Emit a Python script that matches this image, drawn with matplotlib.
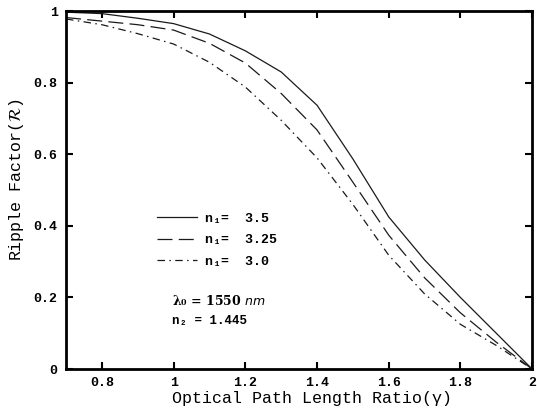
import matplotlib
matplotlib.use("Agg")
import matplotlib.pyplot as plt

# datos
gamma = [0.7, 0.8, 0.9, 1.0, 1.1, 1.2, 1.3, 1.4, 1.5, 1.6, 1.7, 1.8, 1.9, 2.0]
r_350 = [0.997, 0.993, 0.98, 0.965, 0.936, 0.889, 0.83, 0.737, 0.587, 0.425, 0.305, 0.20, 0.10, 0.0]
r_325 = [0.982, 0.972, 0.962, 0.947, 0.91, 0.855, 0.77, 0.668, 0.522, 0.374, 0.255, 0.157, 0.075, 0.0]
r_300 = [0.978, 0.962, 0.937, 0.908, 0.857, 0.788, 0.695, 0.59, 0.46, 0.318, 0.21, 0.125, 0.066, 0.0]
etiquetas = ["n\u2081=  3.5", "n\u2081=  3.25", "n\u2081=  3.0"]

xticks = [0.8, 1.0, 1.2, 1.4, 1.6, 1.8, 2.0]
xticklabels = ["0.8", "1", "1.2", "1.4", "1.6", "1.8", "2"]
yticks = [0, 0.2, 0.4, 0.6, 0.8, 1.0]
yticklabels = ["0", "0.2", "0.4", "0.6", "0.8", "1"]

fuente = ["Liberation Mono", "DejaVu Sans Mono"]
plt.rcParams["font.family"] = fuente

fig = plt.figure(figsize=(5.37, 4.11), dpi=100)
ax = fig.add_axes([0.123, 0.102, 0.868, 0.871])

ax.plot(gamma, r_350, color="#1a1a1a", lw=0.9, ls="-", label=etiquetas[0])
ax.plot(gamma, r_325, color="#1a1a1a", lw=0.9, ls=(0, (12, 5)), label=etiquetas[1])
ax.plot(gamma, r_300, color="#1a1a1a", lw=0.9, ls=(0, (6, 3.5, 1.2, 3.5)), label=etiquetas[2])

ax.set_xlim(0.7, 2.0)
ax.set_ylim(0, 1)
ax.set_xticks(xticks)
ax.set_xticklabels(xticklabels, fontweight="bold")
ax.set_yticks(yticks)
ax.set_yticklabels(yticklabels, fontweight="bold")
ax.tick_params(direction="in", length=5, width=1.5, top=True, right=True,
               labelsize=9.5, pad=6)
for s in ax.spines.values():
    s.set_linewidth(2)

ax.set_xlabel("Optical Path Length Ratio(\u03b3)", fontsize=12)
ax.set_ylabel("Ripple Factor($\\mathcal{R}$)", fontsize=12)
ax.xaxis.set_label_coords(0.528, -0.062)
ax.yaxis.set_label_coords(-0.086, 0.53)

ley = ax.legend(loc="upper left", bbox_to_anchor=(0.17, 0.47), frameon=False,
                handlelength=3.0, handletextpad=0.6, labelspacing=0.7,
                prop={"family": fuente, "weight": "bold", "size": 9.5})

ax.text(0.228, 0.19, "\u03bb\u2080 = 1550 $nm$", transform=ax.transAxes,
        fontsize=9, fontweight="bold", family=["DejaVu Serif"], va="center")
ax.text(0.228, 0.133, "n\u2082 = 1.445", transform=ax.transAxes,
        fontsize=9, fontweight="bold", va="center")

fig.savefig("out.png", dpi=100)
